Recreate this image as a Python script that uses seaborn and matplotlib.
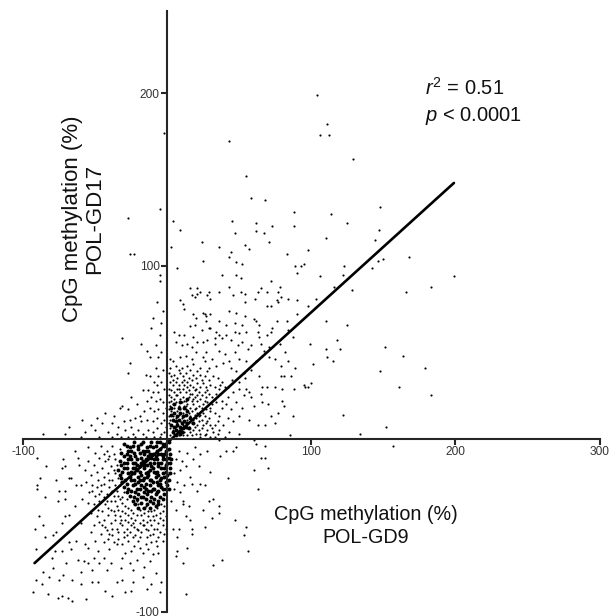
import matplotlib
matplotlib.use("Agg")
import matplotlib.pyplot as plt
import pandas as pd
import seaborn as sns

# values, (GD9, GD17) in percent
sparse_top = [
    (104, 199), (111, 182), (106, 176), (112, 176), (129, 162), (43, 172), (-2, 177), (55, 152), (58, 139),
    (68, 138), (88, 131), (114, 130), (148, 134), (-5, 133), (-27, 128), (4, 126), (45, 126), (62, 125),
    (73, 123), (88, 123), (125, 125), (147, 121), (9, 121), (47, 119), (62, 120), (67, 119), (110, 116),
    (144, 115), (24, 114), (36, 111), (54, 112), (57, 110), (71, 114), (3, 111), (-26, 107), (-23, 107),
    (44, 108), (43, 105), (83, 107), (98, 109), (25, 103), (48, 102), (52, 101), (89, 100), (93, 100),
    (95, 101), (123, 100), (7, 99), (90, 96), (38, 95), (48, 95), (51, 93), (106, 94), (122, 95), (-5, 95),
    (-5, 91), (72, 91), (78, 88), (43, 88), (116, 88), (128, 86), (168, 105), (146, 103), (150, 104),
    (142, 99), (199, 94), (183, 88), (166, 85),
]
sparse_right = [
    (103, 81), (98, 77), (110, 68), (125, 66), (118, 57), (99, 55), (110, 52), (120, 52), (151, 53), (164, 48),
    (111, 47), (115, 45), (101, 43), (179, 41), (148, 39), (100, 32), (95, 31), (96, 30), (98, 30), (161, 30),
    (183, 25), (122, 14), (152, 7), (134, 3), (157, -4), (79, 36), (81, 36), (86, 36), (66, 30), (69, 30),
    (75, 30), (80, 29), (88, 29), (65, 26), (66, 21), (70, 20), (80, 22), (81, 19), (72, 13), (77, 15),
    (87, 13), (75, 9), (68, 8), (63, 8), (57, 11), (85, 2), (50, 3), (60, -18), (70, -17), (65, -11), (68, -11),
    (63, -29), (42, -23), (55, -51), (53, -56), (56, -65), (38, -70), (32, -73), (47, -47), (36, -43), (36, -39),
    (32, -35), (26, -51), (31, -46), (25, -41), (29, -36), (26, -27), (30, -19), (23, -26), (21, -30), (17, -55),
    (17, -52), (16, -47), (13, -45), (11, -72), (13, -90), (14, -63), (7, -65), (6, -68), (8, -52), (4, -52),
    (7, -57), (11, -38), (15, -39), (11, -36), (6, -41), (3, -36), (17, -26), (16, -22), (9, -18), (13, -16),
    (10, -13), (23, -9), (28, -7), (37, -10), (41, -7), (48, -5), (46, -7), (62, -3), (68, -4), (60, -1), (36, -1),
    (19, -5), (14, -8), (8, -7), (6, -12), (5, -20), (7, -25), (5, -29), (12, -27), (9, -31), (18, -12), (22, -16),
]
mid_upper = [
    (16, 87), (21, 87), (23, 85), (17, 83), (19, 82), (21, 84), (29, 85), (28, 83), (30, 81), (36, 85), (46, 83),
    (51, 85), (54, 84), (54, 79), (65, 87), (63, 85), (61, 81), (69, 85), (77, 85), (79, 82), (76, 80), (77, 79),
    (84, 81), (90, 80), (69, 77), (72, 77), (9, 80), (11, 78), (12, 75), (43, 74), (48, 73), (18, 72), (20, 70),
    (25, 73), (27, 71), (26, 72), (30, 72), (54, 71), (52, 66), (60, 69), (62, 68), (64, 66), (83, 68), (90, 72),
    (27, 68), (19, 66), (16, 65), (29, 64), (36, 68), (41, 66), (47, 67), (69, 60), (73, 64), (76, 68), (5, 62),
    (8, 60), (12, 60), (18, 59), (24, 63), (30, 64), (34, 62), (36, 60), (41, 60), (47, 62), (50, 61), (55, 62),
    (63, 62), (64, 59), (72, 62), (84, 63), (87, 59), (6, 56), (10, 54), (14, 55), (17, 53), (21, 56), (25, 56),
    (28, 57), (33, 58), (33, 55), (38, 58), (44, 57), (49, 54), (52, 56), (56, 52), (58, 54), (65, 55), (67, 51),
    (71, 53), (75, 46), (78, 55), (82, 50), (2, 46), (4, 45), (9, 47), (13, 48), (17, 46), (20, 50), (25, 47),
    (27, 50), (31, 46), (36, 51), (40, 49), (43, 45), (47, 50), (50, 46), (55, 45), (62, 45), (66, 48), (71, 47),
    (79, 42), (84, 45), (89, 41), (6, 42), (8, 40), (14, 42), (18, 43), (23, 41), (26, 45), (29, 41), (34, 42),
    (39, 44), (44, 41), (48, 39), (53, 38), (58, 40), (64, 36), (45, 34), (50, 33), (54, 35), (55, 29), (57, 27),
    (58, 24), (60, 19), (53, 25), (50, 29), (46, 27), (42, 30), (37, 31), (37, 26), (52, 18), (48, 21), (42, 24),
    (50, 13), (46, 10), (44, 17), (42, 12), (38, 18), (36, 13), (34, 21), (39, 8), (43, 4), (36, 5), (33, 8),
]
dense_upper = [
    (1, 38), (3, 36), (5, 37), (7, 35), (9, 38), (11, 36), (13, 38), (15, 35), (18, 37), (20, 35), (23, 37), (26, 36),
    (29, 34), (32, 36), (35, 35), (38, 33), (2, 33), (4, 31), (6, 33), (8, 31), (10, 33), (12, 31), (14, 33), (16, 31),
    (18, 30), (21, 32), (23, 30), (25, 32), (27, 30), (30, 31), (33, 30), (36, 29), (40, 30), (1, 29), (3, 28), (5, 27),
    (7, 29), (9, 27), (11, 29), (13, 27), (15, 28), (17, 26), (19, 28), (22, 27), (24, 25), (26, 27), (29, 26), (31, 24),
    (34, 26), (1, 25), (3, 24), (5, 23), (7, 25), (9, 23), (11, 24), (13, 22), (15, 24), (17, 22), (19, 24), (21, 22),
    (23, 23), (26, 22), (28, 21), (31, 20), (1, 21), (2, 19), (4, 20), (6, 21), (8, 19), (10, 21), (12, 19), (14, 20),
    (16, 18), (18, 20), (20, 18), (22, 19), (24, 18), (27, 17), (30, 16), (33, 15), (1, 17), (3, 16), (5, 18), (7, 16),
    (9, 17), (11, 15), (13, 17), (15, 15), (17, 16), (19, 14), (21, 15), (23, 14), (26, 13), (29, 12), (1, 13), (2, 11),
    (4, 13), (6, 12), (8, 14), (10, 12), (12, 13), (14, 11), (16, 13), (18, 11), (20, 12), (22, 10), (24, 11), (27, 9),
    (30, 8), (1, 9), (3, 8), (5, 10), (7, 9), (9, 10), (11, 8), (13, 9), (15, 7), (17, 9), (19, 7), (21, 8), (24, 6),
    (28, 5), (32, 4), (2, 6), (4, 5), (6, 7), (8, 5), (10, 6), (12, 4), (14, 6), (16, 4), (18, 5), (20, 3), (23, 3),
    (26, 2), (30, 1), (2, 2), (5, 3), (8, 2), (11, 2), (14, 2), (17, 2),
    (2, 41), (10, 41), (16, 40), (21, 39), (28, 39), (4, 34), (12, 34), (17, 34), (24, 34), (8, 29), (14, 30), (20, 29), (28, 28),
    (6, 25), (16, 26), (21, 25), (27, 24), (33, 23), (3, 22), (12, 22), (18, 23), (25, 20), (30, 18), (5, 15), (13, 19), (19, 17),
    (25, 15), (22, 13), (28, 10), (35, 10), (25, 8), (31, 6), (22, 5), (35, 3), (27, 3), (40, 1), (33, 1), (23, 1), (38, 22), (41, 20),
]
dense_upper_core = [
    (3, 14), (5, 15), (7, 13), (9, 15), (11, 13), (13, 14), (4, 11), (6, 10), (8, 11), (10, 9), (12, 10), (14, 9), (3, 8),
    (5, 7), (7, 8), (9, 7), (11, 6), (13, 7), (15, 6), (4, 4), (6, 5), (8, 4), (10, 4), (6, 2), (9, 3), (12, 18), (8, 18),
    (14, 16), (16, 12), (18, 9), (5, 20), (9, 21), (14, 23), (3, 18),
]
left_upper = [
    (-7, 79), (-3, 74), (-10, 70), (-4, 67), (-11, 64), (-5, 60), (-31, 58), (-18, 55), (-8, 54), (-14, 51), (-4, 50),
    (-26, 44), (-12, 47), (-6, 47), (-27, 38), (-8, 41), (-15, 37), (-12, 36), (-6, 36), (-3, 40), (-9, 33), (-7, 31),
    (-4, 33), (-2, 29), (-17, 28), (-13, 28), (-10, 27), (-6, 27), (-31, 19), (-27, 17), (-21, 20), (-14, 22), (-11, 24),
    (-8, 22), (-5, 23), (-3, 21), (-1, 18), (-16, 16), (-12, 18), (-9, 16), (-6, 17), (-3, 15), (-37, 13), (-22, 12),
    (-18, 10), (-14, 11), (-10, 10), (-7, 12), (-4, 9), (-2, 11), (-1, 7), (-34, 7), (-45, 9), (-41, 4), (-35, 3),
    (-29, 5), (-25, 7), (-24, 3), (-20, 5), (-17, 3), (-13, 5), (-10, 4), (-7, 6), (-4, 3), (-2, 4), (-50, 5), (-57, 4),
    (-47, 1), (-38, 1), (-32, 1), (-27, 1), (-22, 1), (-15, 1), (-9, 1), (-5, 1), (-60, 1), (-86, 3), (-53, 8), (-59, 11),
    (-33, 18), (-25, 24), (-19, 13), (-43, 15), (-38, 9), (-30, 10), (-26, 11), (-49, 12), (-68, 7), (-71, 3),
]
far_left = [
    (-90, -11), (-64, -7), (-62, -11), (-72, -12), (-84, -16), (-73, -17), (-71, -16), (-61, -15), (-88, -23), (-90, -27),
    (-90, -29), (-77, -24), (-68, -23), (-67, -23), (-63, -27), (-60, -27), (-75, -30), (-71, -30), (-85, -34), (-76, -36),
    (-71, -35), (-64, -39), (-89, -45), (-92, -52), (-86, -50), (-71, -45), (-68, -44), (-73, -49), (-60, -49), (-77, -54),
    (-79, -56), (-85, -57), (-68, -60), (-63, -59), (-91, -64), (-78, -65), (-73, -65), (-67, -64), (-57, -61), (-55, -63),
    (-48, -65), (-40, -64), (-35, -61), (-93, -89), (-91, -82), (-87, -84), (-86, -77), (-82, -80), (-79, -75), (-75, -82),
    (-72, -79), (-66, -82), (-60, -77), (-58, -71), (-55, -72), (-52, -83), (-47, -72), (-48, -83), (-43, -88), (-39, -72),
    (-35, -83), (-31, -82), (-29, -89), (-25, -88), (-24, -83), (-19, -63), (-14, -87), (-10, -67), (-6, -66), (-4, -83),
    (-5, -89), (-76, -92), (-73, -91), (-69, -92), (-66, -94), (-56, -93), (-38, -91), (-83, -90), (-80, -69), (-70, -72),
    (-62, -70), (-51, -69), (-44, -69), (-31, -69), (-26, -72), (-21, -70), (-16, -74), (-12, -71), (-8, -78), (-32, -75),
    (-42, -76), (-52, -76), (-60, -84), (-24, -76), (-17, -80), (-11, -84),
]
lower_halo = [
    (-55, -5), (-50, -8), (-46, -4), (-42, -7), (-38, -4), (-55, -13), (-51, -15), (-47, -11), (-43, -13), (-40, -10), (-36, -12),
    (-57, -18), (-53, -21), (-49, -19), (-45, -17), (-41, -20), (-37, -18), (-33, -21), (-56, -25), (-52, -27), (-48, -24),
    (-44, -26), (-40, -24), (-36, -27), (-32, -25), (-54, -31), (-50, -33), (-46, -30), (-42, -32), (-38, -30), (-34, -33),
    (-30, -31), (-59, -35), (-55, -37), (-51, -38), (-47, -36), (-43, -38), (-39, -36), (-35, -39), (-31, -37), (-27, -40),
    (-23, -38), (-19, -41), (-15, -39), (-11, -42), (-7, -40), (-3, -42), (-53, -43), (-49, -45), (-45, -42), (-41, -44),
    (-37, -42), (-33, -45), (-29, -43), (-25, -46), (-21, -44), (-17, -47), (-13, -45), (-9, -47), (-5, -46), (-1, -45),
    (-51, -50), (-47, -48), (-43, -51), (-39, -49), (-35, -52), (-31, -50), (-27, -48), (-23, -51), (-19, -49), (-15, -52),
    (-11, -50), (-7, -52), (-3, -50), (-53, -54), (-46, -55), (-42, -53), (-38, -56), (-34, -54), (-30, -57), (-26, -54),
    (-22, -56), (-18, -54), (-14, -57), (-10, -55), (-6, -57), (-2, -55), (-50, -59), (-44, -60), (-37, -60), (-31, -61),
    (-27, -59), (-23, -62), (-20, -59), (-15, -61), (-11, -60), (-7, -62), (-3, -59), (-1, -52), (-25, -65), (-29, -66),
    (-17, -66), (-13, -64), (-36, -47), (-44, -47), (-41, -40), (-48, -41), (-33, -35), (-28, -35), (-24, -43), (-16, -43),
    (-12, -47), (-20, -38), (-8, -44), (-4, -38), (-40, -55), (-32, -47), (-24, -49), (-28, -52), (-20, -53), (-16, -50),
    (-39, -16), (-35, -15), (-38, -24), (-34, -23), (-35, -30), (-31, -34), (-37, -33), (-40, -28), (-44, -22), (-46, -27),
    (-42, -36), (-29, -39), (-25, -41), (-21, -36), (-17, -40), (-13, -42), (-9, -41), (-5, -43), (-2, -39), (-36, -44),
    (-31, -42), (-27, -44), (-22, -47), (-18, -44), (-14, -48), (-10, -45), (-6, -49), (-3, -47), (-33, -49), (-29, -47),
    (-25, -50), (-21, -52), (-17, -50), (-13, -53), (-9, -52), (-5, -54), (-38, -52), (-45, -50), (-30, -54), (-24, -57),
    (-19, -57), (-12, -56), (-8, -59), (-34, -58), (-28, -56), (-41, -58), (-36, -36), (-47, -32), (-52, -30), (-49, -28),
    (-44, -34), (-39, -41), (-34, -41), (-41, -12), (-37, -9), (-44, -9), (-33, -6), (-36, -20), (-39, -31), (-33, -27),
]
# solid centre of the lower blob
core = [
    (-30, -3), (-26, -5), (-23, -2), (-20, -4), (-17, -2), (-14, -5), (-11, -2), (-8, -4), (-5, -2), (-2, -4), (1, -2),
    (-32, -8), (-28, -9), (-25, -7), (-22, -10), (-19, -8), (-16, -9), (-13, -7), (-10, -9), (-7, -7), (-4, -9), (-1, -7), (2, -9),
    (-33, -13), (-30, -14), (-27, -12), (-24, -14), (-21, -12), (-18, -14), (-15, -12), (-12, -14), (-9, -12), (-6, -14), (-3, -12), (0, -14), (3, -12),
    (-34, -18), (-31, -19), (-28, -17), (-25, -19), (-22, -17), (-19, -19), (-16, -17), (-13, -19), (-10, -17), (-7, -19), (-4, -17), (-1, -19), (2, -17),
    (-32, -23), (-29, -24), (-26, -22), (-23, -24), (-20, -22), (-17, -24), (-14, -22), (-11, -24), (-8, -22), (-5, -24), (-2, -22), (1, -24),
    (-30, -28), (-27, -29), (-24, -27), (-21, -29), (-18, -27), (-15, -29), (-12, -27), (-9, -29), (-6, -27), (-3, -29), (0, -27),
    (-26, -33), (-23, -34), (-20, -32), (-17, -34), (-14, -32), (-11, -34), (-8, -32), (-5, -34), (-2, -32),
    (-22, -38), (-18, -37), (-14, -38), (-10, -37), (-6, -38),
    (-20, -6), (-15, -7), (-10, -5), (-5, -6), (-18, -11), (-13, -10), (-8, -10), (-3, -10), (-21, -15), (-16, -15), (-11, -16),
    (-6, -16), (-1, -15), (-23, -20), (-18, -21), (-13, -21), (-8, -20), (-3, -20), (-20, -25), (-15, -26), (-10, -25), (-5, -26),
    (-16, -31), (-11, -30), (-6, -30), (-19, -16), (-14, -15), (-9, -14), (-4, -14),
    (-28, -4), (-24, -4), (-18, -3), (-12, -4), (-7, -2), (-3, -3), (-30, -10), (-26, -10), (-23, -8), (-17, -7), (-12, -9), (-6, -9),
    (-2, -9), (1, -11), (-32, -15), (-28, -14), (-25, -12), (-22, -14), (-17, -13), (-11, -11), (-7, -12), (-1, -12), (2, -14), (-33, -21),
    (-30, -17), (-27, -20), (-24, -17), (-21, -18), (-15, -20), (-12, -18), (-9, -19), (-6, -21), (-2, -17), (0, -21), (-31, -25), (-28, -26),
    (-25, -24), (-22, -26), (-19, -24), (-16, -23), (-12, -24), (-7, -25), (-4, -23), (-1, -25), (-28, -31), (-25, -30), (-22, -31), (-19, -29),
    (-16, -28), (-13, -30), (-10, -29), (-7, -31), (-4, -28), (-1, -29), (-24, -36), (-21, -35), (-18, -34), (-15, -35), (-12, -36), (-9, -35),
    (-6, -36), (-3, -35), (-20, -40), (-16, -40), (-12, -40), (-8, -39), (1, -6), (2, -20), (1, -29), (-27, -7),
]

fit_x = [-92, 199]
fit_y = [-72, 148]

x_ticks = [-100, 100, 200, 300]
y_ticks = [-100, 100, 200]

sns.set_style("white")
plt.rcParams["font.family"] = ["Liberation Sans", "DejaVu Sans"]
plt.rcParams["mathtext.fontset"] = "custom"
plt.rcParams["mathtext.it"] = "Liberation Sans:italic"
plt.rcParams["mathtext.rm"] = "Liberation Sans"
plt.rcParams["axes.unicode_minus"] = False

W, H = 609, 616
fig = plt.figure(figsize=(W / 100, H / 100), dpi=100)
ax = fig.add_axes([23 / W, 1 - 611.5 / H, (599.5 - 23) / W, (611.5 - 11) / H])

points = pd.DataFrame(
    sparse_top + sparse_right + mid_upper + dense_upper + left_upper + far_left + lower_halo,
    columns=["gd9", "gd17"],
)
heavy = pd.DataFrame(core + dense_upper_core, columns=["gd9", "gd17"])

sns.scatterplot(data=points, x="gd9", y="gd17", color="black", s=2.4, linewidth=0, ax=ax, clip_on=False)
sns.scatterplot(data=heavy, x="gd9", y="gd17", color="black", s=8, linewidth=0, ax=ax, clip_on=False)
sns.lineplot(x=fit_x, y=fit_y, color="black", lw=1.9, ax=ax, errorbar=None)

ax.set_xlim(-100, 300)
ax.set_ylim(-100, 247.5)
ax.set_xlabel("")
ax.set_ylabel("")
ax.spines["left"].set_position(("data", 0))
ax.spines["bottom"].set_position(("data", 0))
ax.spines["top"].set_visible(False)
ax.spines["right"].set_visible(False)
ax.spines["left"].set_linewidth(1.5)
ax.spines["bottom"].set_linewidth(1.5)
ax.set_xticks(x_ticks)
ax.set_yticks(y_ticks)
ax.tick_params(axis="both", direction="out", length=4, width=1.5, labelsize=8.6, pad=1.5,
               labelcolor="#333333", bottom=True, left=True)
for lab in ax.get_yticklabels():
    lab.set_va("center_baseline")

ax.text(138, -44, "CpG methylation (%)", fontsize=14.2, ha="center", va="center", color="#111111")
ax.text(138, -57, "POL-GD9", fontsize=14.2, ha="center", va="center", color="#111111")
ax.text(-66, 127, "CpG methylation (%)", fontsize=16, rotation=90, ha="center", va="center", color="#111111")
ax.text(-50, 127, "POL-GD17", fontsize=16, rotation=90, ha="center", va="center", color="#111111")
ax.text(179, 203, r"$\mathit{r}^{2}$ = 0.51", fontsize=14.5, ha="left", va="center", color="#111111")
ax.text(179, 187, r"$\mathit{p}$ < 0.0001", fontsize=14.5, ha="left", va="center", color="#111111")

fig.savefig("out.png", dpi=100, facecolor="white")
